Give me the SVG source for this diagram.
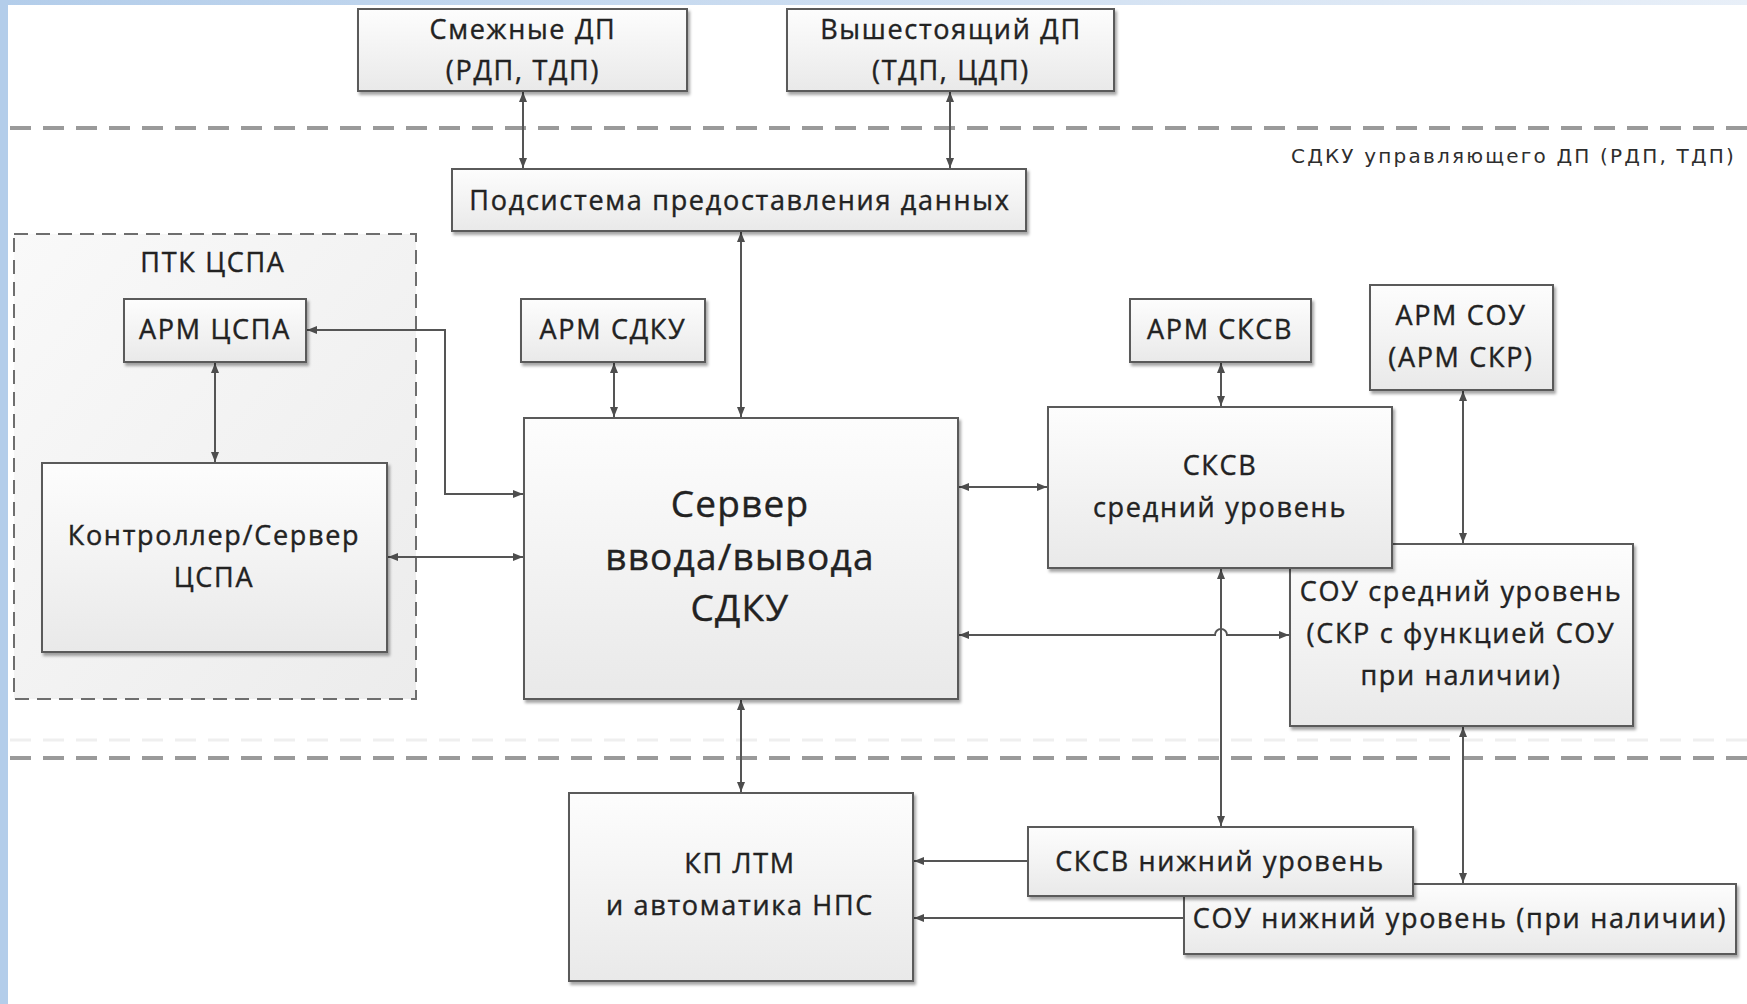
<svg xmlns="http://www.w3.org/2000/svg" width="1747" height="1004" viewBox="0 0 1747 1004">
<defs>
  <linearGradient id="boxg" x1="0" y1="0" x2="0" y2="1">
    <stop offset="0" stop-color="#fdfdfd"/>
    <stop offset="1" stop-color="#e9e9e9"/>
  </linearGradient>
  <linearGradient id="grpg" x1="0" y1="0" x2="1" y2="1">
    <stop offset="0" stop-color="#f9f9f9"/>
    <stop offset="1" stop-color="#ececec"/>
  </linearGradient>
  <linearGradient id="topg" x1="0" y1="0" x2="1" y2="0">
    <stop offset="0" stop-color="#b3cdea"/>
    <stop offset="1" stop-color="#e8eff8"/>
  </linearGradient>
  <filter id="sh" x="-5%" y="-5%" width="115%" height="125%">
    <feDropShadow dx="2" dy="3" stdDeviation="1.5" flood-color="#000" flood-opacity="0.35"/>
  </filter>
  <marker id="ah" viewBox="0 0 10 10" refX="10" refY="5" markerWidth="10" markerHeight="10" markerUnits="userSpaceOnUse" orient="auto-start-reverse">
    <path d="M0,1 L10,5 L0,9 z" fill="#4d4d4d"/>
  </marker>
  <style>
    .box{fill:url(#boxg);stroke:#5a5a5a;stroke-width:2;filter:url(#sh)}
    .t{font-family:"Open Sans","Noto Sans",sans-serif;font-size:27px;letter-spacing:1.7px;fill:#222;stroke:#222;stroke-width:0.4px;text-anchor:middle;dominant-baseline:central}
    .big{font-size:37px;letter-spacing:1.2px}
    .lbl{font-family:"DejaVu Sans","Noto Sans",sans-serif;font-size:20px;letter-spacing:2.2px;fill:#2e2e2e;text-anchor:end}
    .c{fill:none;stroke:#555;stroke-width:2}
    .d{marker-start:url(#ah);marker-end:url(#ah)}
    .s{marker-end:url(#ah)}
    .sep{stroke:#9a9a9a;stroke-width:4;stroke-dasharray:21 12;fill:none}
  </style>
</defs>
<rect x="0" y="0" width="1747" height="1004" fill="#ffffff"/>
<rect x="0" y="0" width="1747" height="5" fill="url(#topg)"/>
<rect x="0" y="0" width="8" height="1004" fill="#b3cdea"/>

<g id="separators">
  <line class="sep" x1="10" y1="128" x2="1747" y2="128"/>
  <line x1="10" y1="740" x2="1747" y2="740" stroke="#efefef" stroke-width="3" stroke-dasharray="21 12"/>
  <line class="sep" x1="10" y1="758" x2="1747" y2="758"/>
  <text class="lbl" x="1736" y="163">СДКУ управляющего ДП (РДП, ТДП)</text>
</g>

<g id="ptk-cspa">
  <rect x="14" y="234" width="402" height="465" fill="url(#grpg)" stroke="#6e6e6e" stroke-width="2" stroke-dasharray="14 8"/>
  <text class="t" x="213" y="261">ПТК ЦСПА</text>
</g>

<g id="connectors">
  <line class="c d" x1="523" y1="92" x2="523" y2="168"/>
  <line class="c d" x1="950" y1="92" x2="950" y2="168"/>
  <line class="c d" x1="741" y1="232" x2="741" y2="417"/>
  <line class="c d" x1="614" y1="363" x2="614" y2="417"/>
  <line class="c d" x1="215" y1="363" x2="215" y2="462"/>
  <path class="c d" d="M307,330 H445 V494 H523"/>
  <line class="c d" x1="388" y1="557" x2="523" y2="557"/>
  <line class="c d" x1="959" y1="487" x2="1047" y2="487"/>
  <path class="c d" d="M959,635 H1215 A6,6 0 0 1 1227,635 H1289"/>
  <line class="c d" x1="1221" y1="363" x2="1221" y2="406"/>
  <line class="c d" x1="1463" y1="391" x2="1463" y2="543"/>
  <line class="c d" x1="1221" y1="569" x2="1221" y2="826"/>
  <line class="c d" x1="1463" y1="727" x2="1463" y2="883"/>
  <line class="c d" x1="741" y1="700" x2="741" y2="792"/>
  <line class="c s" x1="1028" y1="861" x2="914" y2="861"/>
  <line class="c s" x1="1184" y1="918" x2="914" y2="918"/>
</g>

<g id="smezhnye-dp">
  <rect class="box" x="358" y="9" width="329" height="82"/>
  <text class="t" x="523" y="28">Смежные ДП</text>
  <text class="t" x="523" y="69">(РДП, ТДП)</text>
</g>
<g id="vyshestoyashchiy-dp">
  <rect class="box" x="787" y="9" width="327" height="82"/>
  <text class="t" x="951" y="28">Вышестоящий ДП</text>
  <text class="t" x="951" y="69">(ТДП, ЦДП)</text>
</g>
<g id="podsistema">
  <rect class="box" x="452" y="169" width="574" height="62"/>
  <text class="t" x="740" y="199">Подсистема предоставления данных</text>
</g>
<g id="arm-cspa">
  <rect class="box" x="124" y="299" width="182" height="63"/>
  <text class="t" x="215" y="328">АРМ ЦСПА</text>
</g>
<g id="kontroller-cspa">
  <rect class="box" x="42" y="463" width="345" height="189"/>
  <text class="t" x="214" y="534">Контроллер/Сервер</text>
  <text class="t" x="214" y="576">ЦСПА</text>
</g>
<g id="arm-sdku">
  <rect class="box" x="521" y="299" width="184" height="63"/>
  <text class="t" x="613" y="328">АРМ СДКУ</text>
</g>
<g id="server-sdku">
  <rect class="box" x="524" y="418" width="434" height="281"/>
  <text class="t big" x="740" y="502">Сервер</text>
  <text class="t big" x="740" y="555">ввода/вывода</text>
  <text class="t big" x="740" y="606">СДКУ</text>
</g>
<g id="arm-sksv">
  <rect class="box" x="1130" y="299" width="181" height="63"/>
  <text class="t" x="1220" y="328">АРМ СКСВ</text>
</g>
<g id="arm-sou">
  <rect class="box" x="1370" y="285" width="183" height="105"/>
  <text class="t" x="1461" y="314">АРМ СОУ</text>
  <text class="t" x="1461" y="356">(АРМ СКР)</text>
</g>
<g id="sou-sredniy">
  <rect class="box" x="1290" y="544" width="343" height="182"/>
  <text class="t" x="1461" y="590">СОУ средний уровень</text>
  <text class="t" x="1461" y="632">(СКР с функцией СОУ</text>
  <text class="t" x="1461" y="674">при наличии)</text>
</g>
<g id="sksv-sredniy">
  <rect class="box" x="1048" y="407" width="344" height="161"/>
  <text class="t" x="1220" y="464">СКСВ</text>
  <text class="t" x="1220" y="506">средний уровень</text>
</g>
<g id="kp-ltm">
  <rect class="box" x="569" y="793" width="344" height="188"/>
  <text class="t" x="740" y="862">КП ЛТМ</text>
  <text class="t" x="740" y="904">и автоматика НПС</text>
</g>
<g id="sou-nizhniy">
  <rect class="box" x="1184" y="884" width="552" height="70"/>
  <text class="t" x="1460" y="917">СОУ нижний уровень (при наличии)</text>
</g>
<g id="sksv-nizhniy">
  <rect class="box" x="1028" y="827" width="385" height="69"/>
  <text class="t" x="1220" y="860">СКСВ нижний уровень</text>
</g>
</svg>
